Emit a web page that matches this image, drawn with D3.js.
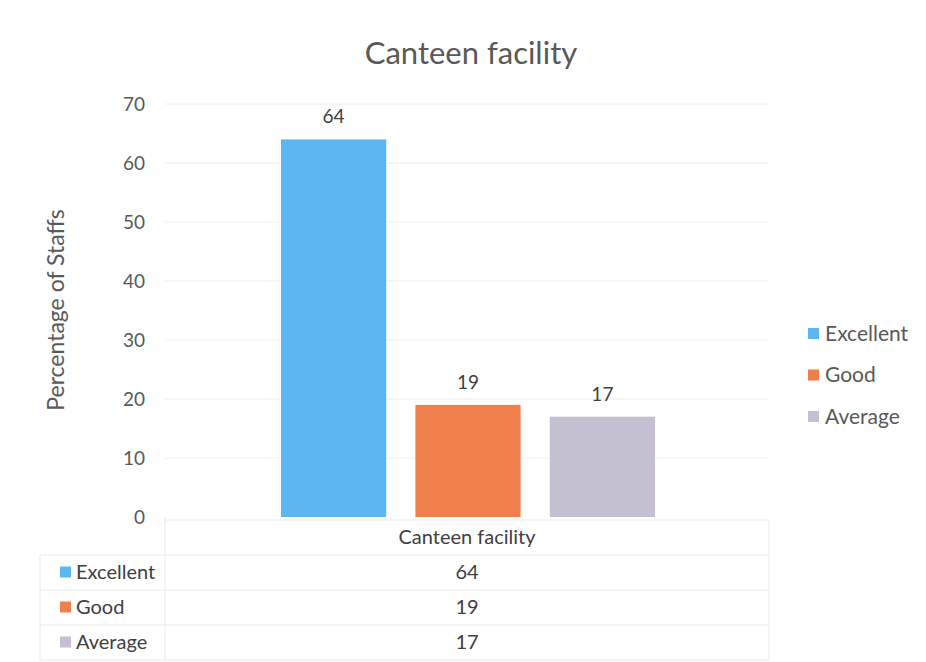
<!DOCTYPE html>
<html><head><meta charset="utf-8">
<script src="https://cdn.jsdelivr.net/npm/d3@7"></script>
<style>body{margin:0;background:#fff}text{font-family:Lato,"Open Sans",sans-serif}</style>
</head><body><svg id="c" width="926" height="662"></svg>
<script>
const category = "Canteen facility";
const series = ["Excellent", "Good", "Average"];
const values = [64, 19, 17];
const colors = ["#5cb6f2", "#f0804b", "#c4c0d2"];
const yTicks = [0, 10, 20, 30, 40, 50, 60, 70];

const svg = d3.select("#c");
const pLeft = 165, pRight = 769, pTop = 104, pBottom = 517;
const y = d3.scaleLinear().domain([0, 70]).range([pBottom, pTop]);
const x0 = d3.scaleBand().domain([category]).range([pLeft, pRight]);
const x1 = d3.scaleBand().domain(series).range([x0(category)+116, x0(category)+x0.bandwidth()-114]).paddingInner(0.217);

// gridlines
svg.append("g").selectAll("line").data(yTicks.slice(1)).join("line")
  .attr("x1", pLeft).attr("x2", pRight).attr("y1", d=>y(d)).attr("y2", d=>y(d))
  .attr("stroke", "#eeeeee").attr("stroke-width", 1);

// y axis
const ya = svg.append("g").attr("transform", `translate(${pLeft},0)`)
  .call(d3.axisLeft(y).tickValues(yTicks).tickSize(0).tickPadding(20));
ya.select(".domain").remove();
ya.selectAll("text").attr("fill", "#595959").style("font-size", "19px").style("font-family","Lato,sans-serif");

// bars
svg.append("g").selectAll("rect").data(series).join("rect")
  .attr("x", d=>x1(d)).attr("width", x1.bandwidth())
  .attr("y", (d,i)=>y(values[i])).attr("height", (d,i)=>pBottom - y(values[i]))
  .attr("fill", (d,i)=>colors[i]);

// data labels
svg.append("g").selectAll("text").data(series).join("text")
  .attr("x", d=>x1(d)+x1.bandwidth()/2).attr("y", (d,i)=>y(values[i])-16)
  .attr("text-anchor", "middle").attr("fill", "#404040").style("font-size", "19px")
  .text((d,i)=>values[i]);

// title
svg.append("text").attr("x", 471).attr("y", 64).attr("text-anchor", "middle")
  .attr("fill", "#595959").style("font-size", "31px").text("Canteen facility");

// y axis title
svg.append("text").attr("transform", "translate(64,310) rotate(-90)").attr("text-anchor", "middle")
  .attr("fill", "#595959").style("font-size", "23px").text("Percentage of Staffs");

// legend
const lg = svg.append("g").selectAll("g").data(series).join("g")
  .attr("transform", (d,i)=>`translate(808,${333 + i*41.5})`);
lg.append("rect").attr("x", 0).attr("y", -5).attr("width", 11).attr("height", 11).attr("fill", (d,i)=>colors[i]);
lg.append("text").attr("x", 17).attr("y", 7.5).attr("fill", "#595959").style("font-size", "21px").text(d=>d);

// data table
const rowY = d3.scaleBand().domain(["header", ...series]).range([pBottom + 3, 660]);
const tbl = svg.append("g");
const lineC = "#ebebeb";
tbl.append("line").attr("x1", pLeft).attr("x2", pRight).attr("y1", pBottom+3).attr("y2", pBottom+3).attr("stroke", lineC);
tbl.selectAll("line.h").data(series.concat(["end"])).join("line").attr("class","h")
  .attr("x1", 40).attr("x2", pRight)
  .attr("y1", (d,i)=>rowY.range()[0] + (i+1)*rowY.step()).attr("y2", (d,i)=>rowY.range()[0] + (i+1)*rowY.step())
  .attr("stroke", lineC);
tbl.append("line").attr("x1", pLeft).attr("x2", pLeft).attr("y1", pBottom).attr("y2", 660).attr("stroke", lineC);
tbl.append("line").attr("x1", pRight).attr("x2", pRight).attr("y1", pBottom+3).attr("y2", 660).attr("stroke", lineC);
tbl.append("line").attr("x1", 40).attr("x2", 40).attr("y1", rowY(series[0])).attr("y2", 660).attr("stroke", lineC);
tbl.append("text").attr("x", x0(category)+x0.bandwidth()/2).attr("y", rowY("header")+rowY.bandwidth()/2+6)
  .attr("text-anchor","middle").attr("fill","#404040").style("font-size","20px").text(category);
const rows = tbl.selectAll("g.r").data(series).join("g").attr("class","r")
  .attr("transform", d=>`translate(0,${rowY(d)+rowY.bandwidth()/2})`);
rows.append("rect").attr("x", 60).attr("y", -6).attr("width", 11).attr("height", 11).attr("fill", (d,i)=>colors[i]);
rows.append("text").attr("x", 76).attr("y", 6).attr("fill","#404040").style("font-size","20px").text(d=>d);
rows.append("text").attr("x", x0(category)+x0.bandwidth()/2).attr("y", 6).attr("text-anchor","middle")
  .attr("fill","#404040").style("font-size","20px").text((d,i)=>values[i]);
</script></body></html>
